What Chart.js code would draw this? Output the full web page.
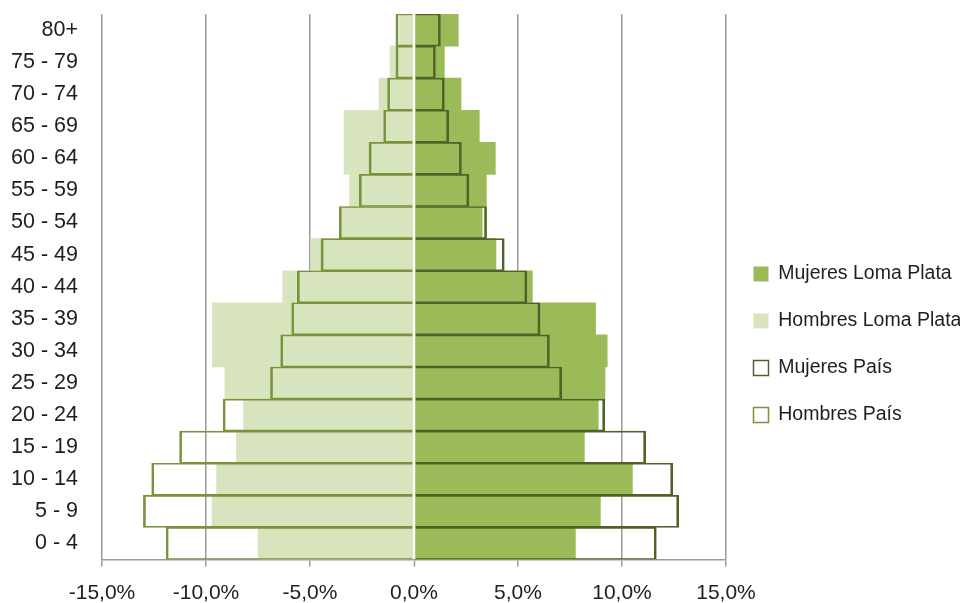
<!DOCTYPE html>
<html><head><meta charset="utf-8">
<script src="https://cdn.jsdelivr.net/npm/chart.js@4.4.1/dist/chart.umd.min.js"></script>
<style>html,body{margin:0;padding:0;background:#fff}</style>
</head><body>
<canvas id="c" width="960" height="603"></canvas>
<script>
const categories = ['80+','75 - 79','70 - 74','65 - 69','60 - 64','55 - 59','50 - 54','45 - 49','40 - 44','35 - 39','30 - 34','25 - 29','20 - 24','15 - 19','10 - 14','5 - 9','0 - 4'];
const mujeresLomaPlata = [2.13,1.46,2.26,3.14,3.91,3.48,3.28,3.94,5.69,8.73,9.29,9.18,8.86,8.19,10.5,8.96,7.76];
const hombresLomaPlata = [-0.7,-1.15,-1.68,-3.36,-3.36,-3.1,-3.45,-4.97,-6.31,-9.7,-9.7,-9.09,-8.19,-8.54,-9.49,-9.71,-7.5];
const mujeresPais = [1.27,1.03,1.46,1.67,2.28,2.64,3.49,4.34,5.43,6.06,6.51,7.1,9.17,11.14,12.44,12.73,11.65];
const hombresPais = [-0.87,-0.87,-1.27,-1.46,-2.16,-2.63,-3.59,-4.47,-5.61,-5.88,-6.41,-6.9,-9.18,-11.27,-12.61,-13.01,-11.92];
const xTicks = [-15,-10,-5,0,5,10,15];
const seriesNames = ['Mujeres Loma Plata','Hombres Loma Plata','Mujeres País','Hombres País'];

const FONT = "'Liberation Sans', Arial, sans-serif";
const GRID = '#9a9a9a';
const TEXT = '#1e1e1e';

new Chart(document.getElementById('c'), {
  type: 'bar',
  data: {
    labels: categories,
    datasets: [
      { label: seriesNames[0], data: mujeresLomaPlata, backgroundColor: '#9bbb59', borderWidth: 0, order: 2 },
      { label: seriesNames[1], data: hombresLomaPlata, backgroundColor: '#d7e4bd', borderWidth: 0, order: 2 },
      { label: seriesNames[2], data: mujeresPais, backgroundColor: 'rgba(255,255,255,0)', borderColor: '#4f6228',
        borderWidth: {top: 1, bottom: 1, left: 2, right: 2}, order: 1 },
      { label: seriesNames[3], data: hombresPais, backgroundColor: 'rgba(255,255,255,0)', borderColor: '#77933c',
        borderWidth: {top: 1, bottom: 1, left: 2, right: 2}, order: 1 }
    ]
  },
  options: {
    indexAxis: 'y',
    responsive: false,
    animation: false,
    devicePixelRatio: 1,
    layout: { padding: { left: 11, top: 14, right: 0, bottom: 0 } },
    datasets: { bar: { grouped: false, barPercentage: 1, categoryPercentage: 1 } },
    scales: {
      x: {
        min: -15, max: 15, z: 1,
        afterBuildTicks: (s) => { s.ticks = xTicks.map(v => ({ value: v })); },
        afterFit: (s) => { s.height = 43.5; },
        grid: {
          color: (ctx) => (ctx.tick && ctx.tick.value === 0) ? '#ffffff' : GRID,
          lineWidth: (ctx) => (ctx.tick && ctx.tick.value === 0) ? 3 : 1.5,
          tickColor: GRID, tickWidth: 1.5, tickLength: 7, drawTicks: true
        },
        border: { display: true, color: GRID, width: 1.5 },
        ticks: {
          padding: 13.9, color: TEXT, maxRotation: 0, autoSkip: false,
          font: { family: FONT, size: 21 },
          callback: (v) => Number(v).toFixed(1).replace('.', ',') + '%'
        }
      },
      y: {
        afterFit: (s) => { s.paddingTop = 0; s.paddingBottom = 0; s.width = 91; },
        grid: { display: false, drawTicks: false },
        border: { display: false },
        ticks: { padding: 24, color: TEXT, autoSkip: false, font: { family: FONT, size: 21.5 } }
      }
    },
    plugins: {
      tooltip: { enabled: false },
      legend: {
        position: 'right',
        maxWidth: 234,
        title: { display: true, text: '', padding: { top: 57.6, bottom: 0 } },
        labels: {
          sort: (a, b) => a.datasetIndex - b.datasetIndex,
          boxWidth: 15, boxHeight: 15, padding: 27.5, color: TEXT,
          font: { family: FONT, size: 19.5 }
        }
      }
    }
  }
});
</script>
</body></html>
